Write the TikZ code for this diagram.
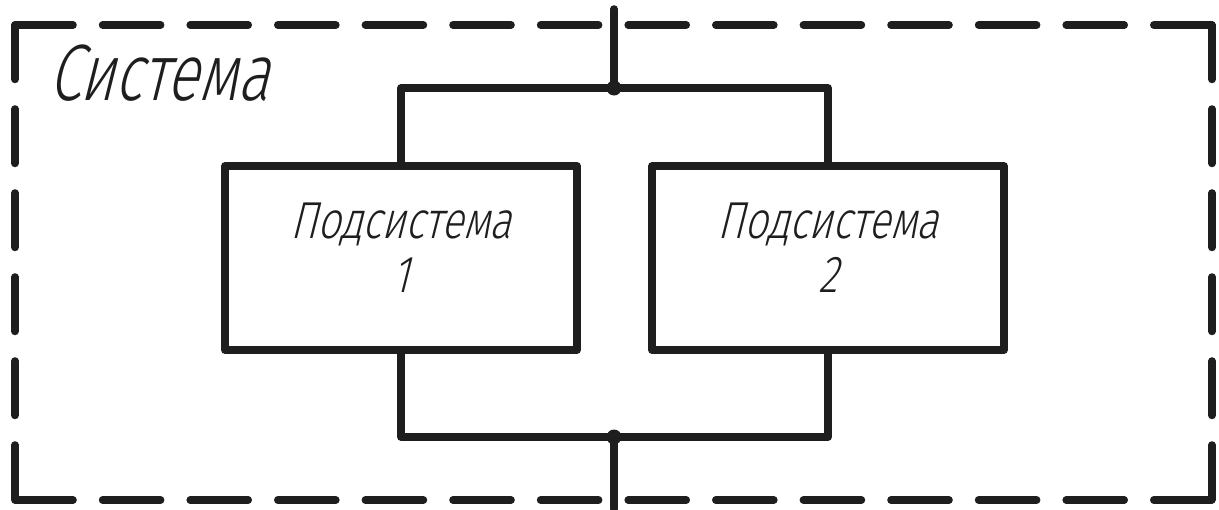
\documentclass[tikz,border=0pt]{standalone}
\usepackage{fontspec}
\newfontfamily\gost{Fira Sans Light}[FakeStretch=0.78,FakeSlant=0.25]
\newfontfamily\gosttitle{Fira Sans Light}[FakeStretch=0.74,FakeSlant=0.25]
\definecolor{ink}{RGB}{30,30,30}
\begin{document}
\begin{tikzpicture}[x=0.5pt,y=-0.5pt,line join=round,
  wire/.style={draw=ink,line width=3.8pt,line cap=round},
  subbox/.style={draw=ink,line width=3.8pt,minimum width=176pt,minimum height=92pt,
    inner sep=0pt,align=center,text depth=10pt,text=ink,
    font=\gost\fontsize{26}{27}\selectfont},
  frameH/.style={draw=ink,line width=3.8pt,line cap=round,dash pattern=on 29pt off 14.8pt},
  frameV/.style={draw=ink,line width=3.8pt,line cap=round,dash pattern=on 27.2pt off 14.8pt},
  junction/.style={circle,fill=ink,inner sep=0pt,minimum size=7.5pt},
  title/.style={anchor=base west,inner sep=0pt,text=ink,font=\gosttitle\fontsize{40}{42}\selectfont}]
\useasboundingbox (0,0) rectangle (1219,509);
\fill[white] (0,0) rectangle (1219,509);
% frame corners
\coordinate (tl) at (15,25);
\coordinate (tr) at (1212,25);
\coordinate (br) at (1212,500);
\coordinate (bl) at (15,500);
\draw[frameH] (tl) -- (tr);
\draw[frameH] (bl) -- (br);
\draw[frameV] (tl) -- (bl);
\draw[frameV] (tr) -- (br);
\node[title] (sys) at (48,100) {Система};
% subsystems
\node[subbox] (s1) at (401,258) {Подсистема\\1};
\node[subbox] (s2) at (828,258) {Подсистема\\2};
% buses
\coordinate (tj) at (614,88);
\coordinate (bj) at (614,437);
\coordinate (intop) at (614,9);
\coordinate (outbot) at (614,509);
\draw[wire] (s1.north) -- (s1.north |- tj) -- (s2.north |- tj) -- (s2.north);
\draw[wire] (s1.south) -- (s1.south |- bj) -- (s2.south |- bj) -- (s2.south);
\draw[wire] (intop) -- (tj);
\draw[wire] (bj) -- (outbot);
\node[junction] (jt) at (tj) {};
\node[junction] (jb) at (bj) {};
\end{tikzpicture}
\end{document}
